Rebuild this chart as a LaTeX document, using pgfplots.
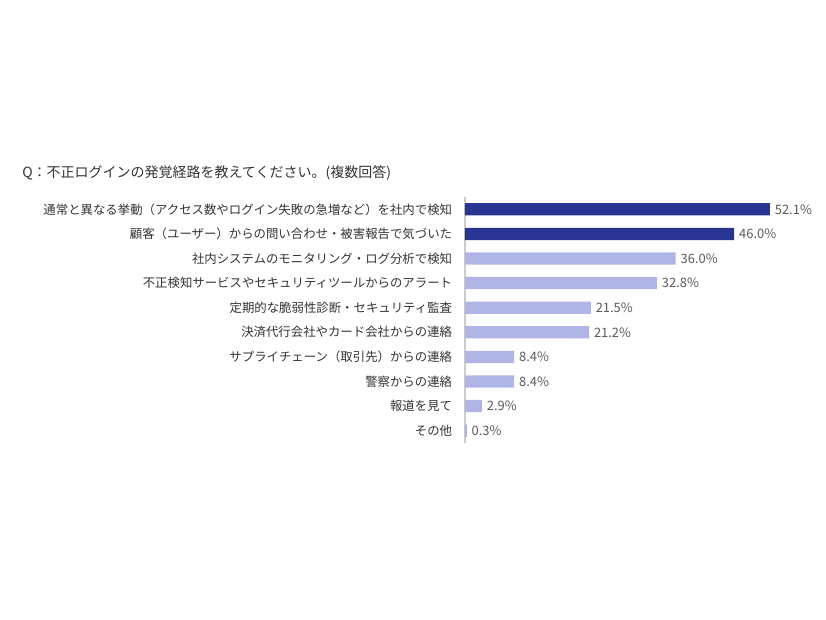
\documentclass[border=0pt]{standalone}
\usepackage{fontspec}
\setmainfont{Noto Sans CJK JP}
\usepackage{pgfplots}
\pgfplotsset{compat=1.18}
\definecolor{darkbar}{HTML}{283593}
\definecolor{lightbar}{HTML}{B0B5E8}
\definecolor{txt}{HTML}{333333}
\definecolor{valtxt}{HTML}{595959}
\definecolor{axisgray}{HTML}{CCCCCC}

\begin{document}
\begin{tikzpicture}
% canvas 826x620 px, 1px = 0.75pt
\useasboundingbox (0,0) rectangle (619.5pt,465pt);
\node[anchor=west, text=txt, font=\fontsize{10.5}{12}\selectfont, inner sep=0pt] at (16.5pt,335pt) {Q：不正ログインの発覚経路を教えてください。(複数回答)};
\begin{axis}[
  at={(348.75pt,132.75pt)}, anchor=south west,
  scale only axis,
  width=263.4pt, height=184.5pt,
  xbar, bar width=9.2pt, bar shift=0pt,
  xmin=0, xmax=60,
  ymin=-0.5, ymax=9.5, y dir=reverse,
  axis x line=none,
  axis y line*=left,
  y axis line style={-, axisgray, line width=0.8pt},
  major tick length=0pt,
  ytick={0,...,9},
  yticklabels={通常と異なる挙動（アクセス数やログイン失敗の急増など）を社内で検知,
    顧客（ユーザー）からの問い合わせ・被害報告で気づいた,
    社内システムのモニタリング・ログ分析で検知,
    不正検知サービスやセキュリティツールからのアラート,
    定期的な脆弱性診断・セキュリティ監査,
    決済代行会社やカード会社からの連絡,
    サプライチェーン（取引先）からの連絡,
    警察からの連絡,
    報道を見て,
    その他},
  yticklabel style={anchor=east, inner sep=0pt, xshift=-9.5pt, text=txt, font=\fontsize{9.3}{11}\selectfont},
  nodes near coords={\pgfmathprintnumber[fixed,fixed zerofill,precision=1]{\pgfplotspointmeta}\%},
  nodes near coords style={anchor=west, inner sep=0pt, xshift=3.5pt, text=valtxt, font=\fontsize{9.7}{11}\selectfont},
  /pgf/number format/assume math mode=true,
  point meta=x,
  clip=false,
]
\addplot[fill=darkbar, draw=none] coordinates {(52.1,0) (46.0,1)};
\addplot[fill=lightbar, draw=none] coordinates {(36.0,2) (32.8,3) (21.5,4) (21.2,5) (8.4,6) (8.4,7) (2.9,8) (0.3,9)};
\end{axis}
\end{tikzpicture}
\end{document}
